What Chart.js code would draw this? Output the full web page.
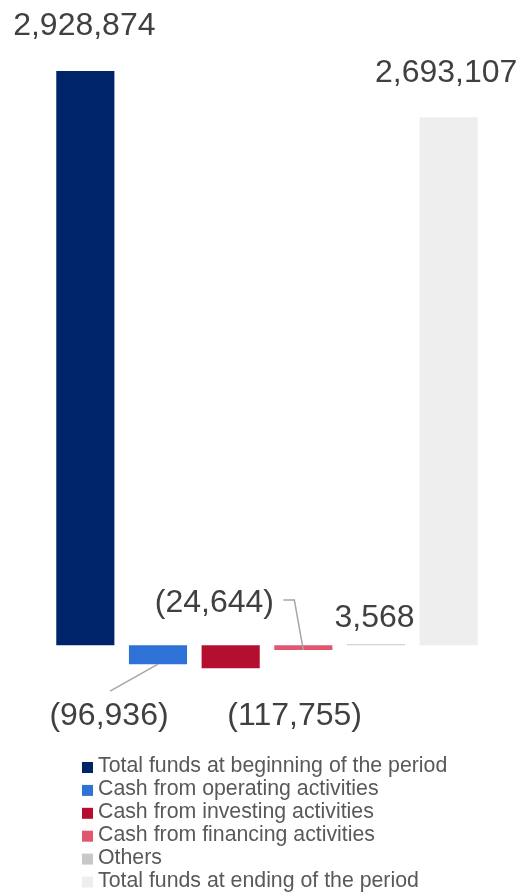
<!DOCTYPE html>
<html>
<head>
<meta charset="utf-8">
<script src="https://cdn.jsdelivr.net/npm/chart.js@4"></script>
<style>
  html, body { margin: 0; padding: 0; background: #fff; }
  canvas { display: block; }
</style>
</head>
<body>
<canvas id="flowChart" width="521" height="892"></canvas>
<script>
const categories = [
  "Total funds at beginning of the period",
  "Cash from operating activities",
  "Cash from investing activities",
  "Cash from financing activities",
  "Others",
  "Total funds at ending of the period",
];
const amounts = [2928874, -96936, -117755, -24644, 3568, 2693107];
const barColors = ["#002469", "#2e72d8", "#b50f30", "#e0576f", "#c8c8c8", "#eeeeee"];

// label placement relative to the end of each bar (text centre, baseline)
const labelShift = [
  [-1, -36], [-49, 61], [64, 57], [-89, -38], [-1.5, -17.5], [-2.5, -35],
];
// leader lines, points relative to the end of the bar
const leaders = [
  null,
  [[-48, 27], [0, 0]],
  null,
  [[-20, -50], [-9, -50], [0, 0]],
  null,
  null,
];

const fmt = (v) => {
  const s = Math.abs(v).toLocaleString("en-US");
  return v < 0 ? "(" + s + ")" : s;
};

const valueLabels = {
  id: "valueLabels",
  afterDatasetsDraw(chart) {
    const ctx = chart.ctx;
    const bars = chart.getDatasetMeta(0).data;
    ctx.save();
    bars.forEach((bar, i) => {
      const x = bar.x, y = bar.y;
      if (leaders[i]) {
        ctx.strokeStyle = "#a6a6a6";
        ctx.lineWidth = 1.5;
        ctx.beginPath();
        leaders[i].forEach((p, k) => {
          if (k === 0) ctx.moveTo(x + p[0], y + p[1]);
          else ctx.lineTo(x + p[0], y + p[1]);
        });
        ctx.stroke();
      }
      ctx.fillStyle = "#404040";
      ctx.font = "32px 'Liberation Sans', Arial, sans-serif";
      ctx.textAlign = "center";
      ctx.textBaseline = "alphabetic";
      ctx.fillText(fmt(amounts[i]), x + labelShift[i][0], y + labelShift[i][1]);
    });
    ctx.restore();
  },
};

const listLegend = {
  id: "listLegend",
  afterDraw(chart) {
    const ctx = chart.ctx;
    ctx.save();
    ctx.font = "21.3px 'Liberation Sans', Arial, sans-serif";
    ctx.textBaseline = "alphabetic";
    ctx.textAlign = "left";
    categories.forEach((name, i) => {
      const base = 772 + i * 22.9;
      ctx.fillStyle = barColors[i];
      ctx.fillRect(82, base - 10, 11, 11);
      ctx.fillStyle = "#595959";
      ctx.fillText(name, 98, base);
    });
    ctx.restore();
  },
};

new Chart(document.getElementById("flowChart").getContext("2d"), {
  type: "bar",
  data: {
    labels: categories,
    datasets: [
      {
        data: amounts,
        backgroundColor: barColors,
        borderWidth: 0,
        barPercentage: 0.8,
        categoryPercentage: 1,
        minBarLength: 1,
      },
    ],
  },
  options: {
    responsive: false,
    animation: false,
    layout: { padding: { top: 57, bottom: 188, left: 49, right: 36 } },
    scales: {
      x: { display: false },
      y: { display: false, min: -300000, max: 3000000 },
    },
    plugins: {
      legend: { display: false },
      tooltip: { enabled: false },
    },
  },
  plugins: [valueLabels, listLegend],
});
</script>
</body>
</html>
